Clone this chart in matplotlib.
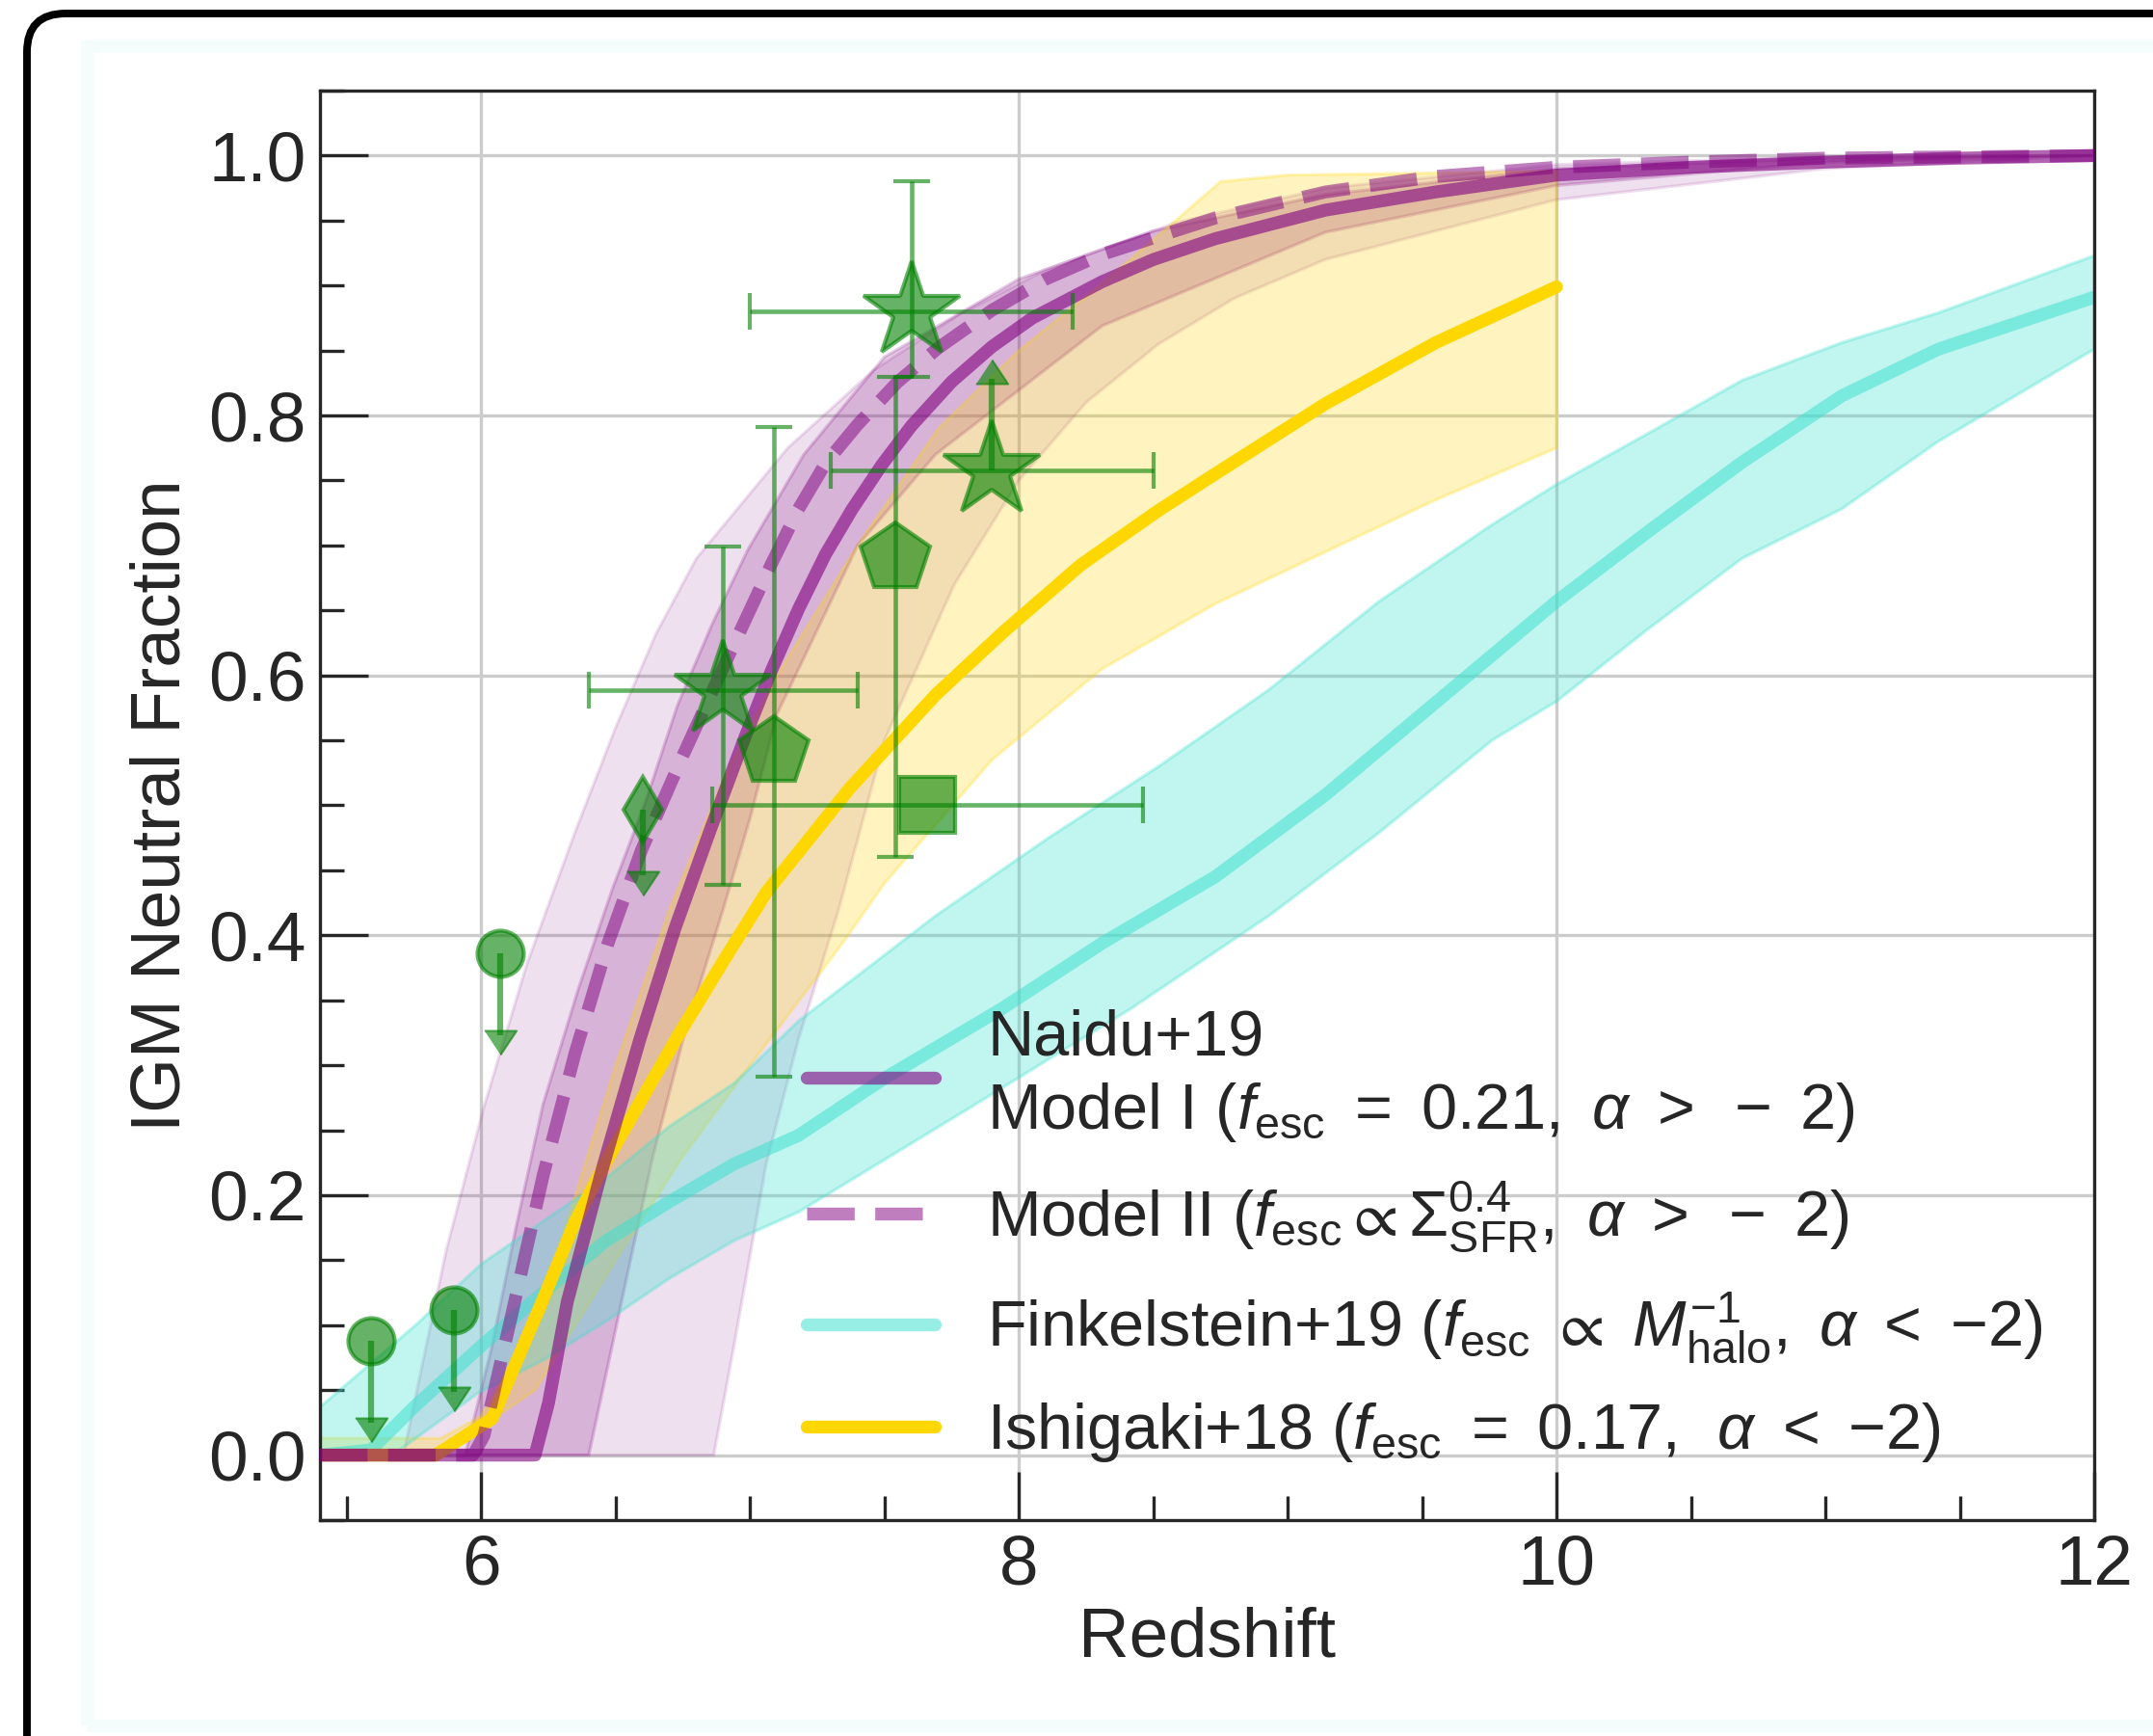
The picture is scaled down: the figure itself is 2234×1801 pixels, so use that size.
import matplotlib
matplotlib.use("Agg")
import matplotlib.pyplot as plt
import numpy as np
from matplotlib.patches import FancyBboxPatch, Rectangle
from matplotlib.ticker import MultipleLocator

plt.rcParams['font.family'] = ['Liberation Sans', 'DejaVu Sans']
plt.rcParams['mathtext.fontset'] = 'custom'
plt.rcParams['mathtext.rm'] = 'Liberation Sans'
plt.rcParams['mathtext.it'] = 'Liberation Sans:italic'
plt.rcParams['mathtext.bf'] = 'Liberation Sans:bold'
plt.rcParams['mathtext.fallback'] = 'stixsans'

# Naidu+19 Model I (solid) and Model II (dashed)
z_m1 = [5.4, 6.2, 6.25, 6.32, 6.45, 6.59, 6.72, 6.85, 6.98, 7.08, 7.18, 7.28, 7.38, 7.49,
        7.6, 7.75, 7.9, 8.05, 8.31, 8.5, 8.73, 9.14, 9.55, 10.0, 10.5, 11.0, 11.5, 12.0]
x_m1 = [0, 0, 0.04, 0.118, 0.22, 0.32, 0.405, 0.48, 0.552, 0.604, 0.651, 0.693, 0.728, 0.762,
        0.792, 0.826, 0.853, 0.875, 0.903, 0.92, 0.936, 0.958, 0.972, 0.985, 0.991, 0.995, 0.998, 1.0]
z_m2 = [5.4, 5.97, 6.01, 6.11, 6.23, 6.35, 6.47, 6.595, 6.745, 6.92, 7.08, 7.18, 7.28, 7.4,
        7.55, 7.7, 7.9, 8.1, 8.31, 8.73, 9.14, 9.55, 10.0, 10.5, 11.0, 11.5, 12.0]
x_m2 = [0, 0, 0.015, 0.105, 0.215, 0.31, 0.393, 0.465, 0.536, 0.615, 0.686, 0.728, 0.763, 0.793,
        0.826, 0.852, 0.881, 0.905, 0.924, 0.952, 0.972, 0.984, 0.991, 0.995, 0.998, 0.999, 1.0]

# Naidu+19 credible regions (wide and narrow)
z_out_hi = [5.4, 5.71, 5.87, 6.01, 6.17, 6.35, 6.5, 6.65, 6.8, 7.14, 7.46, 7.78, 8.1, 8.58,
            9.14, 10.0, 11.0, 12.0]
x_out_hi = [0, 0, 0.158, 0.268, 0.378, 0.48, 0.56, 0.632, 0.69, 0.775, 0.835, 0.878, 0.912, 0.948,
            0.975, 0.993, 0.999, 1.0]
z_out_lo = [5.4, 6.865, 6.94, 7.06, 7.18, 7.33, 7.5, 7.76, 8.0, 8.25, 8.52, 8.8, 9.14, 10.0,
            11.0, 12.0]
x_out_lo = [0, 0, 0.084, 0.224, 0.32, 0.42, 0.55, 0.67, 0.75, 0.81, 0.855, 0.89, 0.92, 0.966,
            0.99, 1.0]
z_in_hi = [5.4, 5.94, 6.04, 6.13, 6.23, 6.36, 6.49, 6.61, 6.73, 6.86, 6.99, 7.2, 7.5, 8.0,
           8.5, 9.14, 10.0, 11.0, 12.0]
x_in_hi = [0, 0, 0.084, 0.176, 0.27, 0.358, 0.437, 0.502, 0.577, 0.64, 0.696, 0.77, 0.845, 0.905,
           0.942, 0.97, 0.99, 0.998, 1.0]
z_in_lo = [5.4, 6.40, 6.525, 6.64, 6.76, 6.9, 7.0, 7.1, 7.4, 7.69, 8.31, 9.14, 10.0, 11.0, 12.0]
x_in_lo = [0, 0, 0.121, 0.231, 0.327, 0.42, 0.49, 0.57, 0.70, 0.77, 0.869, 0.941, 0.977, 0.995, 1.0]

# Finkelstein+19
z_fk = [5.4, 5.59, 5.75, 6.0, 6.23, 6.465, 6.70, 6.94, 7.18, 7.5, 7.94, 8.31, 8.73, 9.14,
        9.59, 10.0, 10.33, 10.69, 11.06, 11.42, 12.0]
x_fk = [0, 0.004, 0.037, 0.084, 0.125, 0.165, 0.195, 0.224, 0.246, 0.29, 0.344, 0.394, 0.445, 0.508,
        0.586, 0.657, 0.709, 0.764, 0.815, 0.851, 0.891]
z_fk_hi = [5.4, 5.75, 6.0, 6.23, 6.465, 6.70, 6.94, 7.18, 7.69, 8.11, 8.52, 8.93, 9.34, 9.76,
           10.0, 10.33, 10.69, 11.06, 11.42, 12.0]
x_fk_hi = [0.037, 0.099, 0.147, 0.18, 0.213, 0.253, 0.286, 0.334, 0.415, 0.475, 0.53, 0.589, 0.657, 0.716,
           0.747, 0.785, 0.827, 0.856, 0.879, 0.923]
z_fk_lo = [5.4, 5.67, 5.99, 6.23, 6.465, 6.70, 6.94, 7.18, 7.8, 8.42, 8.93, 9.34, 9.76, 10.0,
           10.33, 10.69, 11.06, 11.42, 12.0]
x_fk_lo = [0, 0, 0.048, 0.073, 0.103, 0.136, 0.165, 0.187, 0.265, 0.344, 0.415, 0.479, 0.55, 0.58,
           0.634, 0.69, 0.728, 0.78, 0.851]

# Ishigaki+18
z_is = [5.4, 5.83, 6.04, 6.22, 6.35, 6.47, 6.6, 6.73, 6.9, 7.06, 7.37, 7.69, 7.94, 8.23,
        8.52, 8.73, 9.14, 9.55, 10.0]
x_is = [0, 0, 0.028, 0.115, 0.18, 0.228, 0.275, 0.322, 0.38, 0.433, 0.513, 0.585, 0.633, 0.685,
        0.727, 0.755, 0.809, 0.856, 0.899]
z_is_hi = [5.4, 5.85, 6.0, 6.2, 6.35, 6.5, 6.7, 6.9, 7.1, 7.4, 7.7, 8.0, 8.3, 8.6, 8.75, 9.0, 10.0]
x_is_hi = [0.013, 0.013, 0.03, 0.1, 0.2, 0.3, 0.42, 0.52, 0.6, 0.7, 0.79, 0.85, 0.9, 0.953, 0.98, 0.985, 0.988]
z_is_lo = [5.4, 5.85, 6.2, 6.5, 6.75, 7.0, 7.33, 7.5, 7.9, 8.31, 8.73, 9.14, 9.55, 10.0]
x_is_lo = [0, 0, 0.05, 0.15, 0.23, 0.30, 0.39, 0.44, 0.535, 0.605, 0.655, 0.695, 0.735, 0.775]

# observational constraints
z_circ = [5.59, 5.90, 6.07]
x_circ = [0.088, 0.112, 0.386]
z_diam, x_diam = [6.60], [0.497]
z_star = [7.6, 6.9]
x_star = [0.88, 0.589]
xerr_star = [0.6, 0.5]
yerr_star = [[0.05, 0.15], [0.10, 0.11]]
z_star_lim, x_star_lim, xerr_star_lim = [7.9], [0.758], [0.6]
z_pent = [7.09, 7.54]
x_pent = [0.541, 0.69]
yerr_pent = [[0.25, 0.23], [0.25, 0.14]]
z_sq, x_sq, xerr_sq = [7.66], [0.50], [0.8]

purple = 'purple'
green = 'green'

W, H = 2234, 1801
fig = plt.figure(figsize=(W / 300, H / 300), dpi=300)

# screenshot-like frame
fig.patches.append(Rectangle((90, 11), 2400, 1742, transform=None, fill=False,
                             ec='#f5fcfc', lw=3.1, zorder=0))
fig.patches.append(FancyBboxPatch((28, -80), 2400, 1867, transform=None,
                                  boxstyle='round,pad=0,rounding_size=40',
                                  fill=False, ec='black', lw=1.9, zorder=1))

ax = fig.add_axes([332 / W, 1 - 1577 / H, (2173 - 332) / W, (1577 - 94) / H])


def band(zh, yh, zl, yl, color, alpha):
    zz = np.concatenate([zh, zl[::-1]])
    yy = np.concatenate([yh, yl[::-1]])
    ax.fill(zz, yy, fc=color, ec=color, alpha=alpha, lw=0.8, zorder=1)


band(z_out_hi, x_out_hi, z_out_lo, x_out_lo, purple, 0.12)
band(z_in_hi, x_in_hi, z_in_lo, x_in_lo, purple, 0.2)
band(z_is_hi, x_is_hi, z_is_lo, x_is_lo, 'gold', 0.25)
band(z_fk_hi, x_fk_hi, z_fk_lo, x_fk_lo, 'turquoise', 0.32)

lw = 3.2
l_fk, = ax.plot(z_fk, x_fk, color='turquoise', alpha=0.55, lw=lw, solid_capstyle='round', zorder=2,
                label=r'Finkelstein+19 ($f_{\rm esc}\ \propto\ M_{\rm halo}^{-1},\ \alpha\ <\ {-2}$)')
l_is, = ax.plot(z_is, x_is, color='gold', lw=lw, solid_capstyle='round', zorder=2,
                label=r'Ishigaki+18 ($f_{\rm esc}\ =\ 0.17,\ \,\alpha\ <\ {-2}$)')
l_m1, = ax.plot(z_m1, x_m1, color=purple, alpha=0.6, lw=lw, solid_capstyle='round', zorder=3,
                label='Naidu+19\n' + r'Model I ($f_{\rm esc}\ =\ 0.21,\ \alpha\ >\ -\ 2$)')
l_m2, = ax.plot(z_m2, x_m2, color=purple, alpha=0.5, lw=lw, ls='--', zorder=3,
                label=r'Model II ($f_{\rm esc}\propto\Sigma_{\rm SFR}^{0.4},\ \alpha\ >\ -\ 2$)')

ekw = dict(color=green, alpha=0.6, capsize=4.5, elinewidth=1.1, capthick=1.1, mew=1.0,
           ls='none', zorder=4)
ax.errorbar(z_star, x_star, xerr=xerr_star, yerr=yerr_star, marker='*', ms=25, **ekw)
ax.errorbar(z_star_lim, x_star_lim, xerr=xerr_star_lim, marker='*', ms=25, **ekw)
ax.errorbar(z_pent, x_pent, yerr=yerr_pent, marker='p', ms=18, **ekw)
ax.errorbar(z_sq, x_sq, xerr=xerr_sq, marker='s', ms=14, **ekw)
ax.plot(z_circ, x_circ, ls='none', marker='o', ms=11.5, color=green, alpha=0.6, mew=1.0, zorder=4)
ax.plot(z_diam, x_diam, ls='none', marker='d', ms=11.5, color=green, alpha=0.6, mew=1.0, zorder=4)


def limit_arrows(z, val, length, up):
    z = np.asarray(z, float)
    val = np.asarray(val, float)
    s = 1 if up else -1
    tips = val + s * length
    ax.vlines(z, val, tips - s * 0.015, color=green, alpha=0.6, lw=1.5, zorder=4)
    head = [(-1, -1.5 * s), (1, -1.5 * s), (0, 0)]
    ax.plot(z, tips, ls='none', marker=head, ms=12, color=green, alpha=0.6, mew=0.5, zorder=4)


limit_arrows(z_circ, x_circ, 0.078, up=False)
limit_arrows(z_diam, x_diam, 0.066, up=False)
limit_arrows(z_star_lim, x_star_lim, 0.085, up=True)

ax.set_xlim(5.4, 12)
ax.set_ylim(-0.05, 1.05)
ax.xaxis.set_major_locator(MultipleLocator(2))
ax.xaxis.set_minor_locator(MultipleLocator(0.5))
ax.yaxis.set_major_locator(MultipleLocator(0.2))
ax.yaxis.set_minor_locator(MultipleLocator(0.05))
ax.grid(which='major', color='#cccccc', lw=0.8, zorder=0)
ax.set_axisbelow(True)

tc = '#262626'
ax.tick_params(which='both', direction='in', top=False, right=False, color=tc,
               labelcolor=tc, labelsize=17.5, pad=3.5, width=0.8)
ax.tick_params(which='major', length=12)
ax.tick_params(which='minor', length=6)
for sp in ax.spines.values():
    sp.set_color(tc)
    sp.set_linewidth(0.8)

ax.set_xlabel('Redshift', fontsize=17.5, color=tc, labelpad=2)
ax.set_ylabel('IGM Neutral Fraction', fontsize=17.5, color=tc, labelpad=3.5)

leg = ax.legend(handles=[l_m1, l_m2, l_fk, l_is], loc='lower left', bbox_to_anchor=(0.2743, 0.039),
                frameon=False, fontsize=16, borderpad=0, borderaxespad=0,
                handlelength=2.0, handletextpad=0.81, labelspacing=0.55)
for t in leg.get_texts():
    t.set_color(tc)
    t.set_linespacing(1.25)

fig.savefig('out.png', dpi=300)
